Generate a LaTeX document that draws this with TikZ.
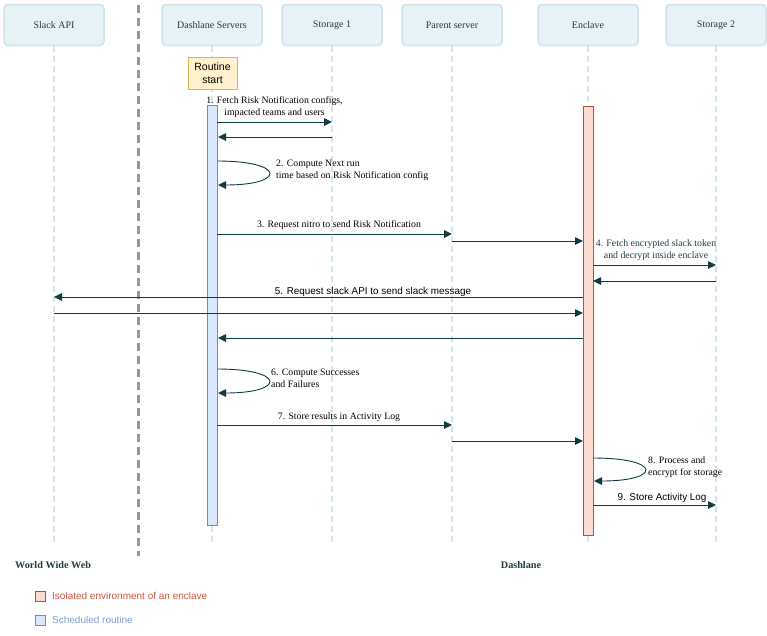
\documentclass[tikz,border=0pt]{standalone}
\usepackage{fontspec}
\setmainfont{Liberation Serif}
\newfontfamily\sansf{Liberation Sans}
\usetikzlibrary{arrows.meta}
\definecolor{hdrfill}{HTML}{E6F2F5}
\definecolor{hdrline}{HTML}{CCE4EA}
\definecolor{hdrtext}{HTML}{1F3D42}
\definecolor{lifec}{HTML}{D0E6EC}
\definecolor{sepc}{HTML}{8A9A9C}
\definecolor{arrc}{HTML}{0E3B44}
\definecolor{bluefill}{HTML}{DAE8FC}
\definecolor{blueline}{HTML}{6C8EBF}
\definecolor{encfill}{HTML}{FADCD2}
\definecolor{encline}{HTML}{C0502B}
\definecolor{yelfill}{HTML}{FFF2CC}
\definecolor{yelline}{HTML}{D6B656}
\definecolor{enctext}{HTML}{C8553D}
\definecolor{schtext}{HTML}{7F9CC6}
\begin{document}
\begin{tikzpicture}[x=1pt,y=-1pt,
  hdr/.style={draw=hdrline,line width=1.5pt,fill=hdrfill,rounded corners=4pt,
    minimum width=100pt,minimum height=41pt,inner sep=0pt,text=hdrtext,font=\fontsize{10}{12}\selectfont},
  life/.style={draw=lifec,line width=1.5pt,dash pattern=on 6pt off 4pt},
  msg/.style={draw=arrc,line width=0.9pt,-{Triangle[length=8pt,width=7.5pt]}},
  lbl/.style={text=black,font=\fontsize{9.8}{12}\selectfont,inner sep=0pt},
  slbl/.style={text=black,font=\sansf\fontsize{9.9}{12}\selectfont,inner sep=0pt},
  bar/.style={minimum width=10pt,inner sep=0pt,line width=0.8pt}]
\useasboundingbox (0,0) rectangle (767,635);

% separator
\coordinate (sepT) at (138,5);
\coordinate (sepB) at (138,556);
\draw[sepc,line width=3pt,dash pattern=on 8pt off 5pt] (sepT) -- (sepB);

% headers
\node[hdr] (slack) at (54,25) {Slack API};
\node[hdr] (dash) at (212,25) {Dashlane Servers};
\node[hdr] (st1) at (332,25) {Storage 1};
\node[hdr] (par) at (452,25) {Parent server};
\node[hdr] (enc) at (588,25) {Enclave};
\node[hdr] (st2) at (716,25) {Storage 2};

% lifelines
\foreach \n/\x in {slack/54,dash/212,st1/332,par/452,enc/588,st2/716}{
  \coordinate (\n B) at (\x,546);
  \draw[life] (\n.south) -- (\n B);
}

% routine start
\node[draw=yelline,fill=yelfill,line width=0.8pt,minimum width=49pt,minimum height=32pt,inner sep=0pt,
  align=center,font=\sansf\fontsize{10.5}{12.5}\selectfont] (rs) at (212.5,73) {Routine\\start};

% activation bars
\node[bar,draw=blueline,fill=bluefill,minimum height=420pt] (dbar) at (212,315) {};
\node[bar,draw=encline,fill=encfill,minimum height=429pt] (ebar) at (588,320.5) {};

% coordinates
\coordinate (a1) at (217,122); \coordinate (b1) at (332,122);
\coordinate (a1r) at (332,137); \coordinate (b1r) at (218,137);
\coordinate (l2s) at (217,161); \coordinate (l2e) at (218,185);
\coordinate (a3) at (217,234); \coordinate (b3) at (452,234);
\coordinate (a3b) at (452,241); \coordinate (b3b) at (583,241);
\coordinate (a4) at (593,265); \coordinate (b4) at (716,265);
\coordinate (a4r) at (716,281); \coordinate (b4r) at (593,281);
\coordinate (a5) at (583,297); \coordinate (b5) at (54,297);
\coordinate (a5r) at (54,313); \coordinate (b5r) at (583,313);
\coordinate (a5c) at (583,338); \coordinate (b5c) at (218,338);
\coordinate (l6s) at (217,369); \coordinate (l6e) at (218,393);
\coordinate (a7) at (217,425); \coordinate (b7) at (452,425);
\coordinate (a7b) at (452,441); \coordinate (b7b) at (583,441);
\coordinate (l8s) at (593,458); \coordinate (l8e) at (594,481);
\coordinate (a9) at (593,505); \coordinate (b9) at (716,505);

% messages
\draw[msg] (a1) -- (b1);
\draw[msg] (a1r) -- (b1r);
\draw[msg] (l2s) .. controls (286,161) and (286,185) .. (l2e);
\draw[msg] (a3) -- (b3);
\draw[msg] (a3b) -- (b3b);
\draw[msg] (a4) -- (b4);
\draw[msg] (a4r) -- (b4r);
\draw[msg] (a5) -- (b5);
\draw[msg] (a5r) -- (b5r);
\draw[msg] (a5c) -- (b5c);
\draw[msg] (l6s) .. controls (286,369) and (286,393) .. (l6e);
\draw[msg] (a7) -- (b7);
\draw[msg] (a7b) -- (b7b);
\draw[msg] (l8s) .. controls (662,458) and (662,481) .. (l8e);
\draw[msg] (a9) -- (b9);

% labels
\node[lbl,align=center] (t1) at (274.5,107) {1. Fetch Risk Notification configs,\\impacted teams and users};
\node[lbl,align=left,anchor=west] (t2) at (276,170.5) {2. Compute Next run\\time based on Risk Notification config};
\node[lbl] (t3) at (339,225.5) {3. Request nitro to send Risk Notification};
\node[lbl,align=center,text=hdrtext] (t4) at (656,250.5) {4. Fetch encrypted slack token\\and decrypt inside enclave};
\node[slbl] (t5) at (373,292) {5. Request slack API to send slack message};
\node[lbl,align=left,anchor=west] (t6) at (271,378.5) {6. Compute Successes\\and Failures};
\node[lbl] (t7) at (339,417) {7. Store results in Activity Log};
\node[lbl,align=left,anchor=west] (t8) at (648,467) {8. Process and\\encrypt for storage};
\node[slbl] (t9) at (662,498) {9. Store Activity Log};

% bottom labels
\node[lbl,text=hdrtext,font=\bfseries\fontsize{10.2}{12}\selectfont,anchor=west] (www) at (15,565) {World Wide Web};
\node[lbl,text=hdrtext,font=\bfseries\fontsize{10.2}{12}\selectfont] (dl) at (521,565) {Dashlane};

% legend
\node[draw=encline,fill=encfill,line width=0.8pt,minimum size=10pt,inner sep=0pt] (lg1) at (40,596) {};
\node[anchor=west,inner sep=0pt,text=enctext,font=\sansf\fontsize{10}{12}\selectfont] (lt1) at (52,595.5) {Isolated environment of an enclave};
\node[draw=blueline,fill=bluefill,line width=0.8pt,minimum size=10pt,inner sep=0pt] (lg2) at (40,620) {};
\node[anchor=west,inner sep=0pt,text=schtext,font=\sansf\fontsize{10}{12}\selectfont] (lt2) at (52,619.5) {Scheduled routine};
\end{tikzpicture}
\end{document}
